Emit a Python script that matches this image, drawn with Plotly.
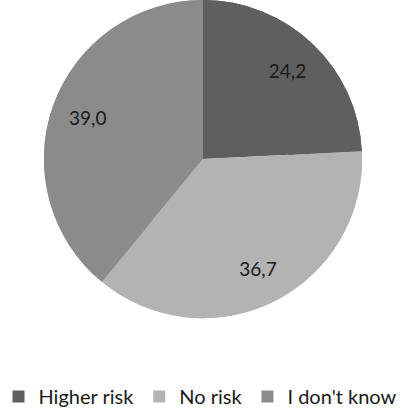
import plotly.graph_objects as go

categories = ["Higher risk", "No risk", "I don't know"]
values = [24.2, 36.7, 39.0]
labels_text = ["24,2", "36,7", "39,0"]
colors = ["#5f5f5f", "#b3b3b3", "#8b8b8b"]

W, H = 401, 416
dom = dict(x=[43 / W, 363 / W], y=[1 - 322 / H, 1.0])
font_fam = "Lato, Carlito, sans-serif"

fig = go.Figure()
# full pie (no text)
fig.add_trace(go.Pie(
    labels=categories, values=values,
    textinfo="none",
    marker=dict(colors=colors, line=dict(width=0)),
    sort=False, direction="clockwise", rotation=0,
    hoverinfo="none", domain=dom, showlegend=True,
))
# ring overlay carrying the labels further out
fig.add_trace(go.Pie(
    labels=categories, values=values,
    text=labels_text, textinfo="text",
    textposition="inside", insidetextorientation="horizontal",
    textfont=dict(family=font_fam, size=19, color="#1a1a1a"),
    marker=dict(colors=colors, line=dict(width=0)),
    hole=0.54,
    sort=False, direction="clockwise", rotation=0,
    hoverinfo="none", domain=dom, showlegend=False,
))
fig.update_layout(
    width=W, height=H,
    margin=dict(l=0, r=0, t=0, b=0),
    paper_bgcolor="white",
    showlegend=True,
    legend=dict(orientation="h", x=0.5, xanchor="center", y=-0.012, yanchor="bottom",
                font=dict(family=font_fam, size=20, color="#1a1a1a"),
                itemwidth=30, tracegroupgap=0),
)
fig.write_html("out.html")
